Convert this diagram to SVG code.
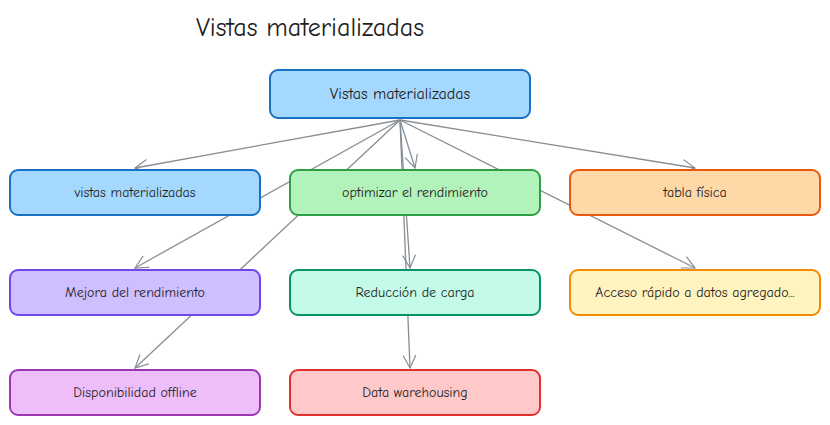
<svg xmlns="http://www.w3.org/2000/svg" width="830" height="425" viewBox="0 0 830 425">
<defs>
<marker id="ah" viewBox="0 0 20 20" refX="18" refY="10" markerWidth="16" markerHeight="16" orient="auto" markerUnits="userSpaceOnUse">
<path d="M2,2 L18,10 L2,18" fill="none" stroke="#868e96" stroke-width="1.5"/>
</marker>
<style>
text{font-family:"Comic Neue","Liberation Sans",sans-serif;fill:#1e1e1e;text-anchor:middle;dominant-baseline:central}
.n text{font-size:14px}
rect{stroke-width:2}
.c line{stroke:#868e96;stroke-width:1.3;marker-end:url(#ah)}
</style>
</defs>
<rect width="830" height="425" fill="#fff"/>
<text x="310" y="28" style="font-size:26px">Vistas materializadas</text>
<g class="c">
<line x1="400" y1="120" x2="135" y2="168"/>
<line x1="400" y1="120" x2="415" y2="168"/>
<line x1="400" y1="120" x2="695" y2="168"/>
<line x1="400" y1="120" x2="135" y2="268"/>
<line x1="400" y1="120" x2="410" y2="268"/>
<line x1="400" y1="120" x2="695" y2="268"/>
<line x1="400" y1="120" x2="135" y2="368"/>
<line x1="400" y1="120" x2="410" y2="368"/>
</g>
<g id="root" class="n"><rect x="270" y="70" width="260" height="48" rx="8" fill="#a5d8ff" stroke="#1971c2"/><text x="400" y="94" style="font-size:16px">Vistas materializadas</text></g>
<g id="n1" class="n"><rect x="10" y="170" width="250" height="45" rx="8" fill="#a5d8ff" stroke="#1971c2"/><text x="135" y="192">vistas materializadas</text></g>
<g id="n2" class="n"><rect x="290" y="170" width="250" height="45" rx="8" fill="#b2f2bb" stroke="#2f9e44"/><text x="415" y="192">optimizar el rendimiento</text></g>
<g id="n3" class="n"><rect x="570" y="170" width="250" height="45" rx="8" fill="#ffd8a8" stroke="#e8590c"/><text x="695" y="192">tabla física</text></g>
<g id="n4" class="n"><rect x="10" y="270" width="250" height="45" rx="8" fill="#d0bfff" stroke="#7048e8"/><text x="135" y="292">Mejora del rendimiento</text></g>
<g id="n5" class="n"><rect x="290" y="270" width="250" height="45" rx="8" fill="#c3fae8" stroke="#099268"/><text x="415" y="292">Reducción de carga</text></g>
<g id="n6" class="n"><rect x="570" y="270" width="250" height="45" rx="8" fill="#fff3bf" stroke="#f08c00"/><text x="695" y="292">Acceso rápido a datos agregado...</text></g>
<g id="n7" class="n"><rect x="10" y="370" width="250" height="45" rx="8" fill="#eebefa" stroke="#9c36b5"/><text x="135" y="392">Disponibilidad offline</text></g>
<g id="n8" class="n"><rect x="290" y="370" width="250" height="45" rx="8" fill="#ffc9c9" stroke="#e03131"/><text x="415" y="392">Data warehousing</text></g>
</svg>
